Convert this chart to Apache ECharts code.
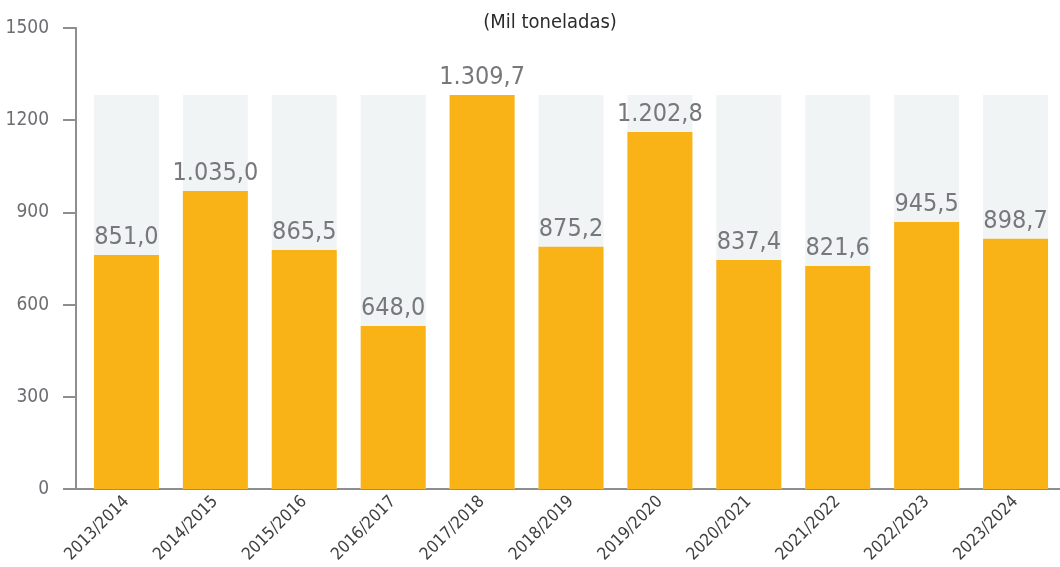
<!DOCTYPE html>
<html>
<head>
<meta charset="utf-8">
<script src="https://cdn.jsdelivr.net/npm/echarts@6/dist/echarts.min.js"></script>
<style>
html,body{margin:0;padding:0;background:#fff;}
#chart{width:1060px;height:567px;}
</style>
</head>
<body>
<div id="chart"></div>
<script>
var categories = ['2013/2014','2014/2015','2015/2016','2016/2017','2017/2018','2018/2019','2019/2020','2020/2021','2021/2022','2022/2023','2023/2024'];
var barValues = [761, 970, 778, 530, 1282, 788, 1162, 745, 726, 869, 814];
var backgroundValues = [1282, 1282, 1282, 1282, 1282, 1282, 1282, 1282, 1282, 1282, 1282];
var labelTexts = ['851,0','1.035,0','865,5','648,0','1.309,7','875,2','1.202,8','837,4','821,6','945,5','898,7'];
var yTicks = [0, 300, 600, 900, 1200, 1500];
var unitText = '(Mil toneladas)';

var FONT = "'DejaVu Sans Condensed','Liberation Sans Narrow','Roboto Condensed','DejaVu Sans',sans-serif";
var chart = echarts.init(document.getElementById('chart'));
chart.setOption({
  animation: false,
  title: {
    text: unitText, left: 545, top: 8, textAlign: 'center',
    textStyle: {fontFamily: FONT, fontSize: 20, fontWeight: 'normal', color: '#2b2b2b'}
  },
  grid: {left: 82, right: -1, top: 28, bottom: 78},
  xAxis: {
    type: 'category', data: categories,
    axisLine: {lineStyle: {color: '#8e8e8e', width: 2}, symbol: ['rect', 'none'], symbolSize: [2, 19], symbolOffset: [-9.5, 0]},
    axisTick: {show: false},
    axisLabel: {rotate: 45, margin: 10, fontFamily: FONT, fontSize: 17, color: '#404042',
      padding: [0, 0, 0, 0]}
  },
  yAxis: {
    type: 'value', min: yTicks[0], max: yTicks[yTicks.length - 1], interval: 300, offset: 6,
    axisLine: {show: true, lineStyle: {color: '#8e8e8e', width: 2}},
    axisTick: {show: true, length: 13, lineStyle: {color: '#8e8e8e', width: 2}},
    splitLine: {show: false},
    axisLabel: {margin: 27, fontFamily: FONT, fontSize: 19, color: '#6d6e71',
      formatter: function (v) { return String(v); }}
  },
  series: [
    {
      type: 'bar', data: backgroundValues, barWidth: 65, silent: true,
      itemStyle: {color: '#f1f4f5'}, z: 1
    },
    {
      type: 'bar', data: barValues, barWidth: 65, barGap: '-100%',
      itemStyle: {color: '#f9b317'}, z: 2,
      label: {
        show: true, position: 'top', distance: 5,
        fontFamily: FONT, fontSize: 25, color: '#77787b',
        formatter: function (p) { return labelTexts[p.dataIndex]; }
      }
    }
  ]
});
</script>
</body>
</html>
